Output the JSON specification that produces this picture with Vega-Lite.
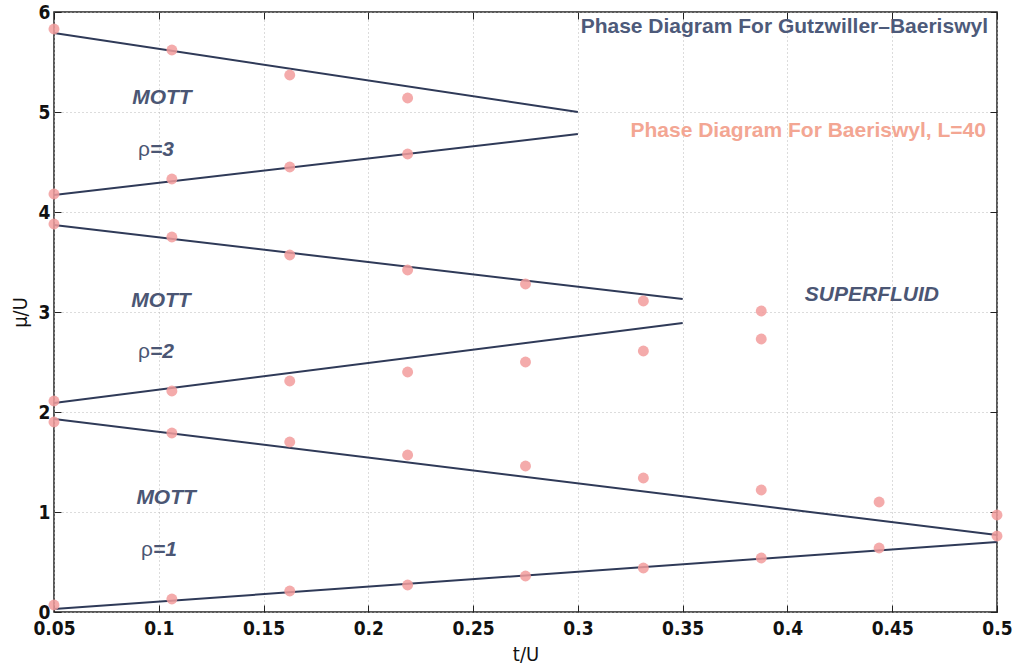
{
  "$schema": "https://vega.github.io/schema/vega-lite/v6.json",
  "width": 943,
  "height": 600,
  "autosize": {"type": "none"},
  "padding": {"left": 54, "top": 12, "right": 29, "bottom": 55},
  "background": "white",
  "config": {
    "view": {"stroke": "#222", "strokeWidth": 1.5},
    "axis": {
      "labelFont": "Liberation Sans Narrow, DejaVu Sans Condensed, Liberation Sans, Arial",
      "labelFontSize": 19,
      "labelFontWeight": "bold",
      "labelColor": "#111",
      "labelFlush": false,
      "labelOverlap": false,
      "titleFont": "Liberation Sans Narrow, DejaVu Sans Condensed, Liberation Sans, Arial",
      "titleFontSize": 20,
      "titleFontWeight": "normal",
      "titleColor": "#111",
      "domain": false,
      "tickColor": "#222",
      "tickSize": -7,
      "tickWidth": 1,
      "gridColor": "#b8b8b8",
      "gridDash": [1, 3],
      "gridWidth": 1
    }
  },
  "datasets": {
    "lines": [
      {"seg": "A", "t": 0.05, "mu": 0.03}, {"seg": "A", "t": 0.5, "mu": 0.70},
      {"seg": "B", "t": 0.05, "mu": 1.93}, {"seg": "B", "t": 0.5, "mu": 0.77},
      {"seg": "C", "t": 0.05, "mu": 2.09}, {"seg": "C", "t": 0.35, "mu": 2.89},
      {"seg": "D", "t": 0.05, "mu": 3.87}, {"seg": "D", "t": 0.35, "mu": 3.13},
      {"seg": "E", "t": 0.05, "mu": 4.17}, {"seg": "E", "t": 0.30, "mu": 4.78},
      {"seg": "F", "t": 0.05, "mu": 5.79}, {"seg": "F", "t": 0.30, "mu": 5.00}
    ],
    "points": [
      {"t": 0.05, "mu": 5.83}, {"t": 0.05, "mu": 4.18}, {"t": 0.05, "mu": 3.88}, {"t": 0.05, "mu": 2.11}, {"t": 0.05, "mu": 1.90}, {"t": 0.05, "mu": 0.07},
      {"t": 0.10625, "mu": 5.62}, {"t": 0.10625, "mu": 4.33}, {"t": 0.10625, "mu": 3.75}, {"t": 0.10625, "mu": 2.21}, {"t": 0.10625, "mu": 1.79}, {"t": 0.10625, "mu": 0.13},
      {"t": 0.1625, "mu": 5.37}, {"t": 0.1625, "mu": 4.45}, {"t": 0.1625, "mu": 3.57}, {"t": 0.1625, "mu": 2.31}, {"t": 0.1625, "mu": 1.70}, {"t": 0.1625, "mu": 0.21},
      {"t": 0.21875, "mu": 5.14}, {"t": 0.21875, "mu": 4.58}, {"t": 0.21875, "mu": 3.42}, {"t": 0.21875, "mu": 2.40}, {"t": 0.21875, "mu": 1.57}, {"t": 0.21875, "mu": 0.27},
      {"t": 0.275, "mu": 3.28}, {"t": 0.275, "mu": 2.50}, {"t": 0.275, "mu": 1.46}, {"t": 0.275, "mu": 0.36},
      {"t": 0.33125, "mu": 3.11}, {"t": 0.33125, "mu": 2.61}, {"t": 0.33125, "mu": 1.34}, {"t": 0.33125, "mu": 0.44},
      {"t": 0.3875, "mu": 3.01}, {"t": 0.3875, "mu": 2.73}, {"t": 0.3875, "mu": 1.22}, {"t": 0.3875, "mu": 0.54},
      {"t": 0.44375, "mu": 1.10}, {"t": 0.44375, "mu": 0.64},
      {"t": 0.5, "mu": 0.97}, {"t": 0.5, "mu": 0.76}
    ],
    "mott": [
      {"t": 0.1015, "mu": 5.14, "label": "MOTT"},
      {"t": 0.101, "mu": 3.11, "label": "MOTT"},
      {"t": 0.1035, "mu": 1.14, "label": "MOTT"},
      {"t": 0.4403, "mu": 3.17, "label": "SUPERFLUID"}
    ],
    "rho": [
      {"t": 0.0958, "mu": 4.62, "sym": "ρ", "val": "=3"},
      {"t": 0.0958, "mu": 2.60, "sym": "ρ", "val": "=2"},
      {"t": 0.0972, "mu": 0.62, "sym": "ρ", "val": "=1"}
    ],
    "leg1": [{"t": 0.4957, "mu": 5.85, "label": "Phase Diagram For Gutzwiller–Baeriswyl"}],
    "leg2": [{"t": 0.4947, "mu": 4.81, "label": "Phase Diagram For Baeriswyl, L=40"}]
  },
  "resolve": {"axis": {"x": "independent", "y": "independent"}},
  "layer": [
    {
      "data": {"name": "lines"},
      "mark": {"type": "line", "color": "#2f3a58", "strokeWidth": 2},
      "encoding": {
        "x": {"field": "t", "type": "quantitative",
              "scale": {"domain": [0.05, 0.5], "nice": false, "zero": false},
              "axis": {"orient": "bottom", "values": [0.05, 0.1, 0.15, 0.2, 0.25, 0.3, 0.35, 0.4, 0.45, 0.5], "format": "~g", "title": "t/U", "labelPadding": 14, "titlePadding": 6}},
        "y": {"field": "mu", "type": "quantitative",
              "scale": {"domain": [0, 6], "nice": false, "zero": false},
              "axis": {"orient": "left", "values": [0, 1, 2, 3, 4, 5, 6], "format": "d", "title": "μ/U", "labelPadding": 11, "titlePadding": 8}},
        "detail": {"field": "seg", "type": "nominal"}
      }
    },
    {
      "data": {"name": "points"},
      "mark": {"type": "circle", "size": 120, "color": "#f29c9c", "opacity": 0.85},
      "encoding": {
        "x": {"field": "t", "type": "quantitative", "axis": null},
        "y": {"field": "mu", "type": "quantitative", "axis": null}
      }
    },
    {
      "data": {"name": "mott"},
      "mark": {"type": "text", "font": "Liberation Sans, Arial", "fontSize": 21, "fontWeight": "bold", "fontStyle": "italic", "color": "#4b5674", "align": "center", "baseline": "middle"},
      "encoding": {
        "x": {"field": "t", "type": "quantitative", "axis": null},
        "y": {"field": "mu", "type": "quantitative", "axis": null},
        "text": {"field": "label"}
      }
    },
    {
      "data": {"name": "rho"},
      "mark": {"type": "text", "font": "Liberation Sans, Arial", "fontSize": 21, "color": "#4b5674", "align": "right", "baseline": "middle"},
      "encoding": {
        "x": {"field": "t", "type": "quantitative", "axis": null},
        "y": {"field": "mu", "type": "quantitative", "axis": null},
        "text": {"field": "sym"}
      }
    },
    {
      "data": {"name": "rho"},
      "mark": {"type": "text", "font": "Liberation Sans, Arial", "fontSize": 21, "fontWeight": "bold", "fontStyle": "italic", "color": "#4b5674", "align": "left", "baseline": "middle"},
      "encoding": {
        "x": {"field": "t", "type": "quantitative", "axis": null},
        "y": {"field": "mu", "type": "quantitative", "axis": null},
        "text": {"field": "val"}
      }
    },
    {
      "data": {"name": "leg1"},
      "mark": {"type": "text", "font": "Liberation Sans, Arial", "fontSize": 21, "fontWeight": "bold", "color": "#4d5a7a", "align": "right", "baseline": "middle"},
      "encoding": {
        "x": {"field": "t", "type": "quantitative", "axis": null},
        "y": {"field": "mu", "type": "quantitative", "axis": null},
        "text": {"field": "label"}
      }
    },
    {
      "data": {"name": "leg2"},
      "mark": {"type": "text", "font": "Liberation Sans, Arial", "fontSize": 21, "fontWeight": "bold", "color": "#f3a693", "align": "right", "baseline": "middle"},
      "encoding": {
        "x": {"field": "t", "type": "quantitative", "axis": null},
        "y": {"field": "mu", "type": "quantitative", "axis": null},
        "text": {"field": "label"}
      }
    },
    {
      "data": {"name": "lines"},
      "mark": {"type": "point", "opacity": 0},
      "encoding": {
        "x": {"field": "t", "type": "quantitative",
              "axis": {"orient": "top", "values": [0.05, 0.1, 0.15, 0.2, 0.25, 0.3, 0.35, 0.4, 0.45, 0.5], "labels": false, "grid": false, "title": null}},
        "y": {"field": "mu", "type": "quantitative",
              "axis": {"orient": "right", "values": [0, 1, 2, 3, 4, 5, 6], "labels": false, "grid": false, "title": null}}
      }
    }
  ]
}
